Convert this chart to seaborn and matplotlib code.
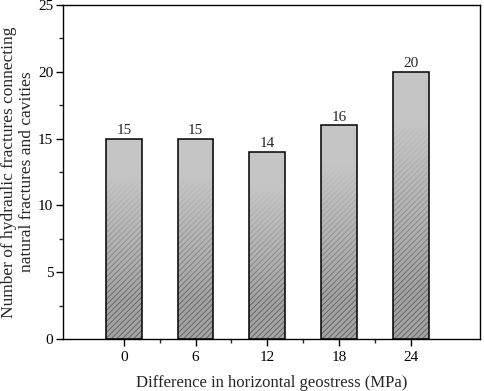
import numpy as np
import pandas as pd
import matplotlib
matplotlib.use("Agg")
import matplotlib.pyplot as plt
from matplotlib.patches import Rectangle
from matplotlib.ticker import MultipleLocator, FixedLocator
import seaborn as sns

sns.set_style("ticks")
plt.rcParams['font.family'] = ['Liberation Serif', 'DejaVu Serif']
plt.rcParams['hatch.linewidth'] = 0.7

# data
stress = ['0', '6', '12', '18', '24']
counts = [15, 15, 14, 16, 20]

df = pd.DataFrame({'stress': stress, 'count': counts})

fig = plt.figure(figsize=(4.84, 3.91), dpi=100)
ax = fig.add_axes([0.130, 0.133, 0.862, 0.854])

sns.barplot(data=df, x='stress', y='count', order=stress, width=0.5,
            color='#a4a4a4', saturation=1, edgecolor='none', ax=ax)

# gradient + hatch on each bar
grad = np.zeros((256, 2, 4))
grad[..., :3] = 0.775
alpha = np.clip(np.linspace(1.3, -0.3, 256), 0, 1)
grad[..., 3] = alpha[:, None]
for p in list(ax.patches):
    x0, y0 = p.get_x(), p.get_y()
    w, h = p.get_width(), p.get_height()
    hr = Rectangle((x0, y0), w, h, fill=False, hatch='//////',
                   edgecolor='#666666', linewidth=0, zorder=2.2)
    ax.add_patch(hr)
    im = ax.imshow(grad, extent=[x0, x0 + w, y0, y0 + h], origin='upper',
                   aspect='auto', zorder=2.4, interpolation='bilinear')
    im.set_clip_path(p)
    ax.add_patch(Rectangle((x0, y0), w, h, fill=False, edgecolor='black',
                           linewidth=1.1, zorder=2.6))
    ax.text(x0 + w / 2, y0 + h + 0.12, str(int(h)), ha='center', va='bottom',
            fontsize=11)

ax.set_xlim(-0.85, 4.97)
ax.set_ylim(0, 25)
ax.yaxis.set_major_locator(MultipleLocator(5))
ax.yaxis.set_minor_locator(MultipleLocator(2.5))
ax.xaxis.set_minor_locator(FixedLocator([0.5, 1.5, 2.5, 3.5]))
ax.tick_params(axis='both', which='major', direction='out', length=5, width=1,
               labelsize=11, colors='black')
ax.tick_params(axis='y', which='major', pad=2)
ax.tick_params(axis='both', which='minor', direction='out', length=3, width=1)
for s in ax.spines.values():
    s.set_visible(True)
    s.set_linewidth(1)
    s.set_color('black')

ax.set_xlabel('Difference in horizontal geostress (MPa)', fontsize=12, labelpad=8)
ax.set_ylabel('Number of hydraulic fractures connecting\nnatural fractures and cavities',
              fontsize=12.5, linespacing=1.1)
ax.yaxis.set_label_coords(-0.068, 0.5)

fig.savefig('out.png', dpi=100)
